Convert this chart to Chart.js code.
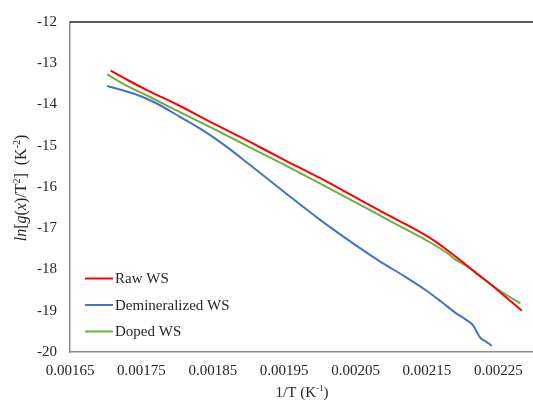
<!DOCTYPE html>
<html>
<head>
<meta charset="utf-8">
<script src="https://cdn.jsdelivr.net/npm/chart.js@4"></script>
<style>
  html, body { margin: 0; padding: 0; background: #fff; overflow: hidden; }
  #wrap { width: 540px; height: 400px; }
</style>
</head>
<body>
<div id="wrap"><canvas id="c" width="540" height="400"></canvas></div>
<script>
// Kinetic plot: ln[g(x)/T^2] against 1/T for three wheat-straw samples
const rawX = [0.001707, 0.00173, 0.00176, 0.00180, 0.00185, 0.00190, 0.00195, 0.00200, 0.00205, 0.00210, 0.00212, 0.00214, 0.00216, 0.00218, 0.00220, 0.00222, 0.00224, 0.00226, 0.002283];
const rawY = [-13.18, -13.40, -13.67, -14.00, -14.45, -14.89, -15.34, -15.78, -16.25, -16.72, -16.90, -17.09, -17.30, -17.55, -17.82, -18.10, -18.37, -18.66, -19.00];

const demX = [0.001702, 0.00174, 0.001771, 0.001804, 0.00184, 0.001873, 0.001901, 0.00195, 0.00200, 0.002027, 0.002083, 0.00212, 0.00215, 0.00217, 0.00219, 0.002205, 0.002215, 0.00222, 0.002225, 0.002232, 0.002241];
const demY = [-13.55, -13.74, -13.97, -14.30, -14.67, -15.07, -15.45, -16.12, -16.79, -17.13, -17.79, -18.18, -18.52, -18.78, -19.05, -19.22, -19.36, -19.52, -19.66, -19.74, -19.85];

const dopX = [0.001702, 0.00173, 0.00176, 0.00180, 0.00185, 0.00190, 0.00195, 0.00200, 0.00205, 0.00210, 0.00215, 0.00218, 0.00219, 0.00220, 0.00221, 0.00224, 0.00226, 0.002281];
const dopY = [-13.27, -13.55, -13.80, -14.15, -14.58, -15.02, -15.46, -15.91, -16.37, -16.84, -17.30, -17.62, -17.76, -17.86, -17.97, -18.37, -18.60, -18.82];

const seriesNames = ['Raw WS', 'Demineralized WS', 'Doped WS'];
const seriesColors = ['#FF0000', '#4472C4', '#70AD47'];

const xTicks = [0.00165, 0.00175, 0.00185, 0.00195, 0.00205, 0.00215, 0.00225];
const xMin = 0.00165, xMax = 0.0023;
const yMin = -20, yMax = -12, yStep = 1;

const FONT = "'Liberation Serif', 'Times New Roman', serif";
const TEXT = '#262626';

function pts(xs, ys) { return xs.map((x, i) => ({ x: x, y: ys[i] })); }

// plot frame: dark top edge
const frame = {
  id: 'frame',
  afterDraw(chart) {
    const a = chart.chartArea, ctx = chart.ctx;
    ctx.save();
    ctx.strokeStyle = '#222';
    ctx.lineWidth = 1.5;
    ctx.beginPath();
    ctx.moveTo(a.left, a.top);
    ctx.lineTo(a.right, a.top);
    ctx.stroke();
    ctx.restore();
  }
};

// legend inside the plot, lower left
const innerLegend = {
  id: 'innerLegend',
  afterDraw(chart) {
    const ctx = chart.ctx;
    ctx.save();
    ctx.font = '15px ' + FONT;
    ctx.textBaseline = 'middle';
    ctx.textAlign = 'left';
    chart.data.datasets.forEach((ds, i) => {
      const y = 278.5 + i * 26.5;
      ctx.strokeStyle = ds.borderColor;
      ctx.lineWidth = 2;
      ctx.beginPath();
      ctx.moveTo(85, y);
      ctx.lineTo(113, y);
      ctx.stroke();
      ctx.fillStyle = TEXT;
      ctx.fillText(ds.label, 115, y + 1);
    });
    ctx.restore();
  }
};

// axis titles with italic parts and superscripts
function drawRuns(ctx, runs, size) {
  let w = 0;
  runs.forEach(r => {
    ctx.font = (r.it ? 'italic ' : '') + (r.sup ? Math.round(size * 0.62) : size) + 'px ' + FONT;
    r.w = ctx.measureText(r.t).width;
    w += r.w;
  });
  let x = -w / 2;
  runs.forEach(r => {
    ctx.font = (r.it ? 'italic ' : '') + (r.sup ? Math.round(size * 0.62) : size) + 'px ' + FONT;
    ctx.fillText(r.t, x, r.sup ? -size * 0.38 : 0);
    x += r.w;
  });
}

const axisTitles = {
  id: 'axisTitles',
  afterDraw(chart) {
    const ctx = chart.ctx, a = chart.chartArea;
    ctx.save();
    ctx.fillStyle = TEXT;
    ctx.textBaseline = 'alphabetic';
    ctx.textAlign = 'left';
    // y title
    ctx.save();
    ctx.translate(26, (a.top + a.bottom) / 2 + 1);
    ctx.rotate(-Math.PI / 2);
    drawRuns(ctx, [
      { t: 'ln', it: true }, { t: '[' }, { t: 'g', it: true }, { t: '(' }, { t: 'x', it: true },
      { t: ')/T' }, { t: '2', sup: true }, { t: ']  (K' }, { t: '-2', sup: true }, { t: ')' }
    ], 16);
    ctx.restore();
    // x title
    ctx.save();
    ctx.translate((a.left + a.right) / 2, 397);
    drawRuns(ctx, [{ t: '1/T (K' }, { t: '-1', sup: true }, { t: ')' }], 15);
    ctx.restore();
    ctx.restore();
  }
};

const datasets = [pts(rawX, rawY), pts(demX, demY), pts(dopX, dopY)].map((d, i) => ({
  label: seriesNames[i],
  data: d,
  borderColor: seriesColors[i],
  backgroundColor: seriesColors[i],
  borderWidth: 2,
  pointRadius: 0,
  cubicInterpolationMode: 'monotone',
  fill: false
}));

new Chart(document.getElementById('c'), {
  type: 'line',
  data: { datasets: datasets },
  options: {
    responsive: false,
    animation: false,
    layout: { padding: { top: 22, right: 6, left: 0, bottom: 0 } },
    plugins: { legend: { display: false }, tooltip: { enabled: false } },
    scales: {
      x: {
        type: 'linear',
        min: xMin,
        max: xMax,
        afterBuildTicks(scale) { scale.ticks = xTicks.map(v => ({ value: v })); },
        afterFit(scale) { scale.height = 48; },
        grid: { display: false, drawTicks: false },
        border: { display: true, color: '#8c8c8c', width: 1.5 },
        ticks: {
          padding: 10,
          maxRotation: 0,
          autoSkip: false,
          color: TEXT,
          font: { family: FONT, size: 15 },
          callback: v => v.toFixed(5)
        }
      },
      y: {
        min: yMin,
        max: yMax,
        afterFit(scale) { scale.width = 70; },
        grid: { display: false, drawTicks: false },
        border: { display: true, color: '#8c8c8c', width: 1.5 },
        ticks: {
          stepSize: yStep,
          padding: 13,
          color: TEXT,
          font: { family: FONT, size: 15 },
          callback: v => String(v)
        }
      }
    }
  },
  plugins: [frame, innerLegend, axisTitles]
});
</script>
</body>
</html>
